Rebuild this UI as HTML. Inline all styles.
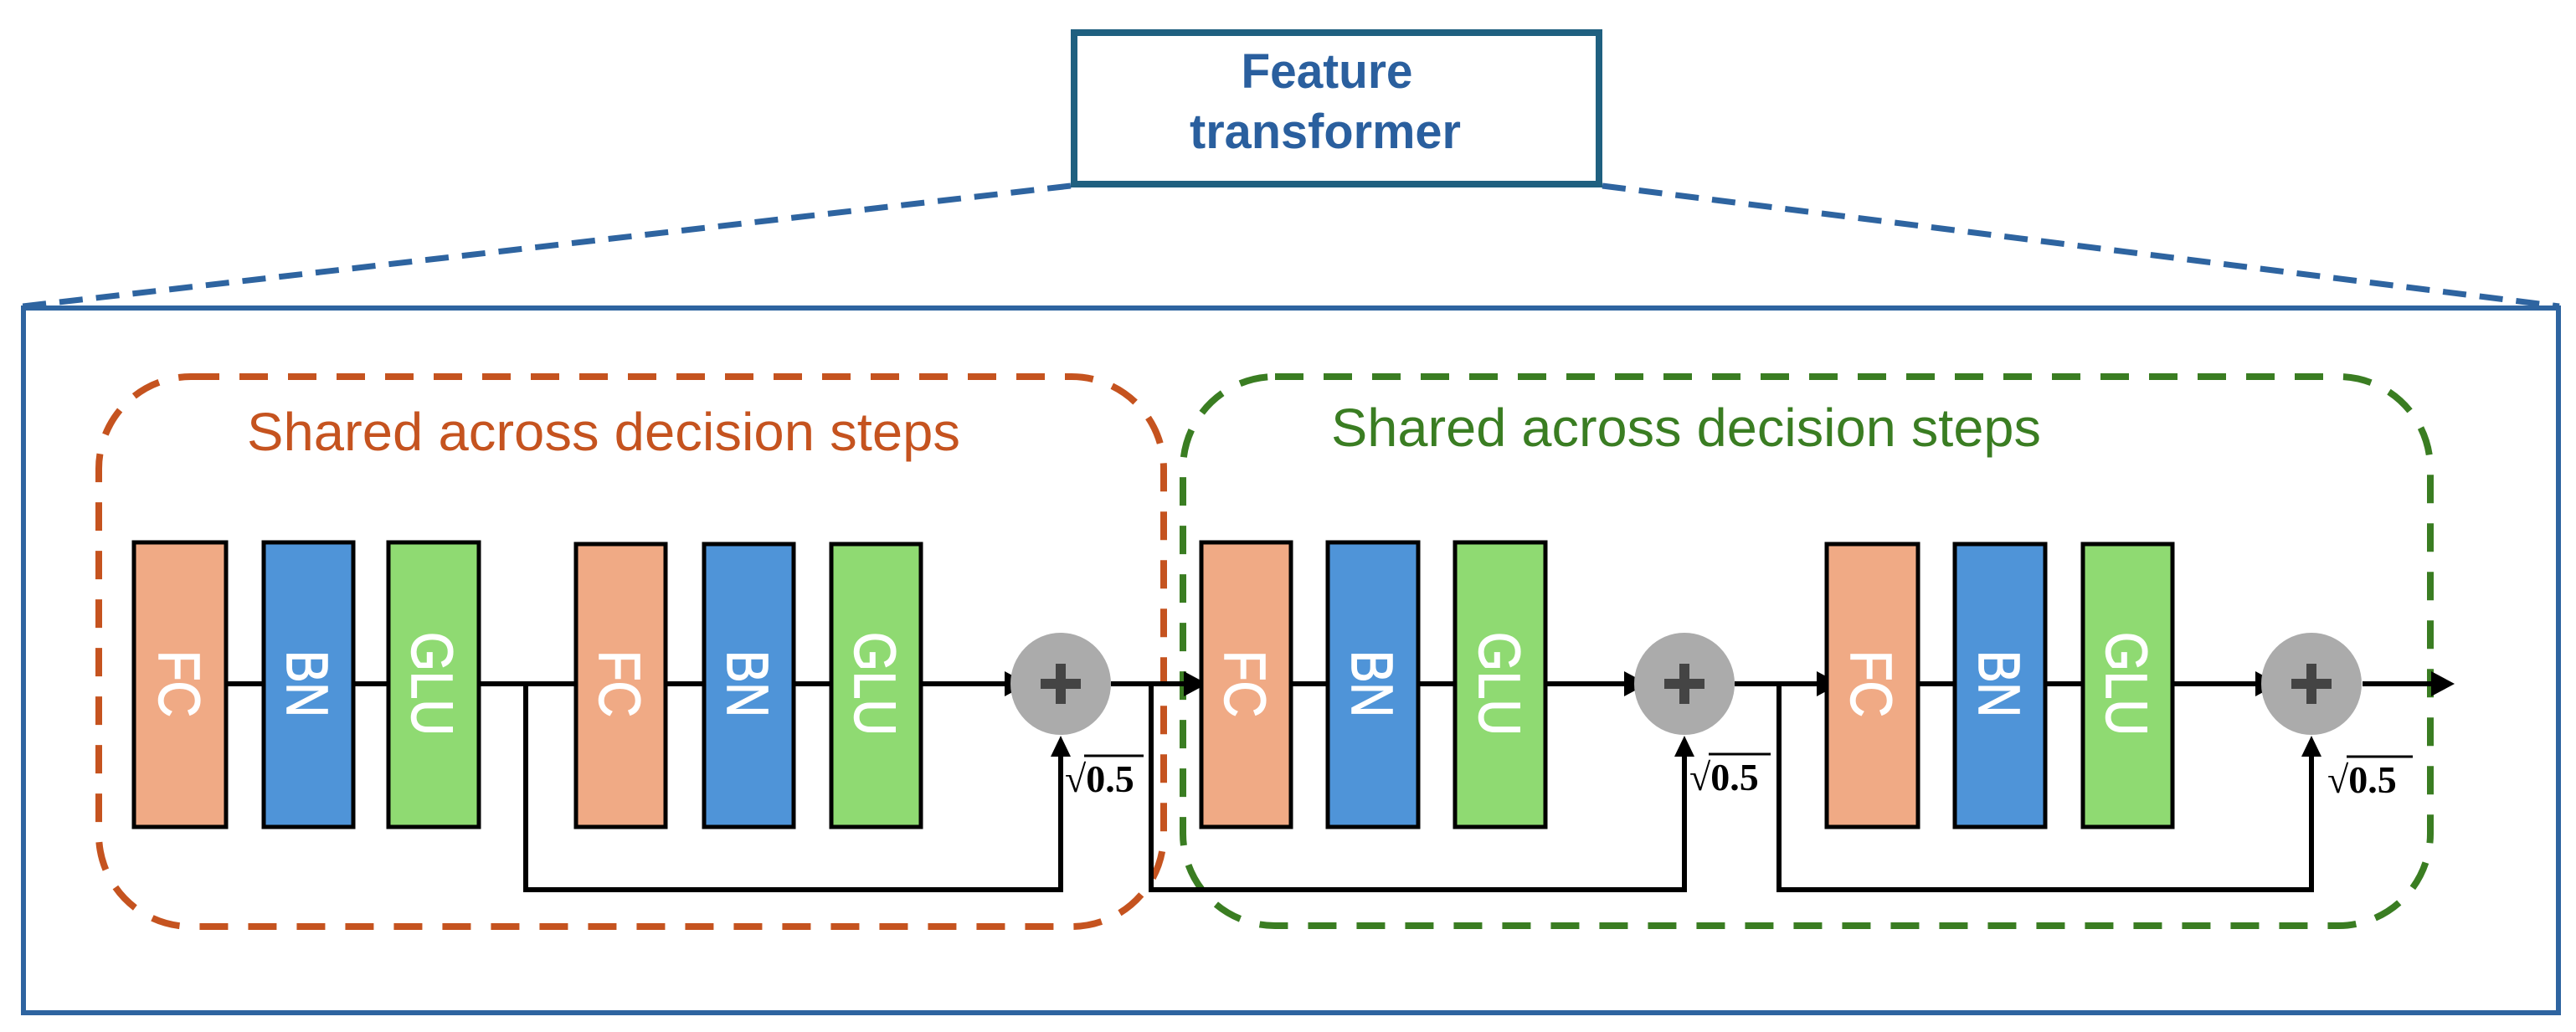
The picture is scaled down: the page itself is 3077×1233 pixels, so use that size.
<!DOCTYPE html>
<html><head><meta charset="utf-8"><style>html,body{margin:0;padding:0;background:#fff}svg{display:block}</style></head>
<body>
<svg width="3077" height="1233" viewBox="0 0 3077 1233" xmlns="http://www.w3.org/2000/svg">
<!-- dashed zoom lines -->
<line x1="1279" y1="222" x2="27" y2="366" stroke="#2e64a0" stroke-width="7" stroke-dasharray="28,16"/>
<line x1="1914" y1="222" x2="3057" y2="366" stroke="#2e64a0" stroke-width="7" stroke-dasharray="28,16"/>
<!-- title box -->
<rect x="1283" y="39" width="627" height="181" fill="#fff" stroke="#1f6080" stroke-width="8"/>
<text x="1585" y="105" font-family="Liberation Sans, sans-serif" font-weight="bold" font-size="58" fill="#2a5f9e" text-anchor="middle" textLength="205" lengthAdjust="spacingAndGlyphs">Feature</text>
<text x="1583" y="177" font-family="Liberation Sans, sans-serif" font-weight="bold" font-size="58" fill="#2a5f9e" text-anchor="middle" textLength="324" lengthAdjust="spacingAndGlyphs">transformer</text>
<!-- main box -->
<rect x="28" y="368" width="3028" height="842" fill="none" stroke="#2e64a0" stroke-width="6"/>
<!-- orange dashed group -->
<rect x="118" y="450" width="1272" height="657" rx="110" fill="none" stroke="#c5531f" stroke-width="8" stroke-dasharray="34,24"/>
<text x="295" y="538" font-family="Liberation Sans, sans-serif" font-size="64" fill="#c5531f" textLength="852" lengthAdjust="spacingAndGlyphs">Shared across decision steps</text>
<!-- green dashed group -->
<rect x="1413" y="450" width="1490" height="656" rx="110" fill="none" stroke="#3a7d22" stroke-width="8" stroke-dasharray="34,24"/>
<text x="1590" y="533" font-family="Liberation Sans, sans-serif" font-size="64" fill="#3a7d22" textLength="848" lengthAdjust="spacingAndGlyphs">Shared across decision steps</text>

<g stroke="#000" stroke-width="6" fill="none">
<line x1="159" y1="817" x2="1200" y2="817"/>
<line x1="1327" y1="817" x2="1427" y2="817"/>
<line x1="1542" y1="817" x2="1945" y2="817"/>
<line x1="2072" y1="817" x2="2175" y2="817"/>
<line x1="2291" y1="817" x2="2700" y2="817"/>
<line x1="2822" y1="817" x2="2915" y2="817"/>
<polyline points="628,817 628,1063 1267,1063 1267,895"/>
<polyline points="1375,817 1375,1063 2012,1063 2012,895"/>
<polyline points="2125,817 2125,1063 2761,1063 2761,895"/>
</g>
<g fill="#000">
<polygon points="1200,802 1200,832 1228,817"/>
<polygon points="1414,802 1414,832 1442,817"/>
<polygon points="1940,802 1940,832 1968,817"/>
<polygon points="2170,802 2170,832 2198,817"/>
<polygon points="2694,802 2694,832 2722,817"/>
<polygon points="2904,802 2904,832 2932,817"/>
<polygon points="1255,904 1279,904 1267,879"/>
<polygon points="2000,904 2024,904 2012,879"/>
<polygon points="2749,904 2773,904 2761,879"/>
</g>
<!-- blocks -->
<g stroke="#000" stroke-width="5">
<rect x="160" y="648" width="110" height="340" fill="#f0aa85"/>
<rect x="315" y="648" width="107" height="340" fill="#4f94d8"/>
<rect x="464" y="648" width="108" height="340" fill="#8fda72"/>
<rect x="688" y="650" width="107" height="338" fill="#f0aa85"/>
<rect x="841" y="650" width="107" height="338" fill="#4f94d8"/>
<rect x="993" y="650" width="107" height="338" fill="#8fda72"/>
<rect x="1435" y="648" width="107" height="340" fill="#f0aa85"/>
<rect x="1586" y="648" width="108" height="340" fill="#4f94d8"/>
<rect x="1738" y="648" width="108" height="340" fill="#8fda72"/>
<rect x="2182" y="650" width="109" height="338" fill="#f0aa85"/>
<rect x="2335" y="650" width="108" height="338" fill="#4f94d8"/>
<rect x="2488" y="650" width="107" height="338" fill="#8fda72"/>
</g>
<g font-family="Liberation Sans, sans-serif" font-size="70" fill="#fff" text-anchor="middle" stroke="#fff" stroke-width="1.5">
<text transform="translate(190,817) rotate(90)" textLength="80" lengthAdjust="spacingAndGlyphs">FC</text>
<text transform="translate(343,817) rotate(90)" textLength="80" lengthAdjust="spacingAndGlyphs">BN</text>
<text transform="translate(492,817) rotate(90)" textLength="124" lengthAdjust="spacingAndGlyphs">GLU</text>
<text transform="translate(716,817) rotate(90)" textLength="80" lengthAdjust="spacingAndGlyphs">FC</text>
<text transform="translate(869,817) rotate(90)" textLength="80" lengthAdjust="spacingAndGlyphs">BN</text>
<text transform="translate(1021,817) rotate(90)" textLength="124" lengthAdjust="spacingAndGlyphs">GLU</text>
<text transform="translate(1463,817) rotate(90)" textLength="80" lengthAdjust="spacingAndGlyphs">FC</text>
<text transform="translate(1615,817) rotate(90)" textLength="80" lengthAdjust="spacingAndGlyphs">BN</text>
<text transform="translate(1767,817) rotate(90)" textLength="124" lengthAdjust="spacingAndGlyphs">GLU</text>
<text transform="translate(2211,817) rotate(90)" textLength="80" lengthAdjust="spacingAndGlyphs">FC</text>
<text transform="translate(2364,817) rotate(90)" textLength="80" lengthAdjust="spacingAndGlyphs">BN</text>
<text transform="translate(2516,817) rotate(90)" textLength="124" lengthAdjust="spacingAndGlyphs">GLU</text>
</g>
<!-- plus circles -->
<g>
<ellipse cx="1267" cy="817" rx="60" ry="61" fill="#ababab"/>
<rect x="1243" y="811" width="48" height="12" fill="#444"/><rect x="1261" y="793" width="12" height="48" fill="#444"/>
<ellipse cx="2012" cy="817" rx="60" ry="61" fill="#ababab"/>
<rect x="1988" y="811" width="48" height="12" fill="#444"/><rect x="2006" y="793" width="12" height="48" fill="#444"/>
<ellipse cx="2761" cy="817" rx="60" ry="61" fill="#ababab"/>
<rect x="2737" y="811" width="48" height="12" fill="#444"/><rect x="2755" y="793" width="12" height="48" fill="#444"/>
</g>
<!-- sqrt labels -->
<g font-family="Liberation Serif, serif" font-weight="bold" font-size="46" fill="#000">
<text x="1272" y="946">√0.5</text>
<line x1="1295" y1="903" x2="1366" y2="903" stroke="#000" stroke-width="3"/>
<text x="2018" y="944">√0.5</text>
<line x1="2041" y1="901" x2="2115" y2="901" stroke="#000" stroke-width="3"/>
<text x="2780" y="947">√0.5</text>
<line x1="2803" y1="904" x2="2882" y2="904" stroke="#000" stroke-width="3"/>
</g>
</svg>
</body></html>
